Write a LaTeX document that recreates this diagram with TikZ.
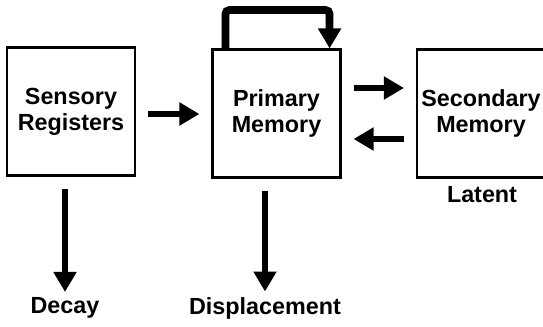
\documentclass[tikz,border=0pt]{standalone}
\usepackage{fontspec}
\setmainfont{Liberation Sans}
\usetikzlibrary{arrows.meta,calc}

\tikzset{
  memblock/.style={draw,line width=1.6pt,minimum width=96pt,minimum height=96pt,inner sep=0pt,align=center,font=\fontsize{17.5}{19.5}\selectfont\bfseries},
  fatarrow/.style={line width=5.2pt,-{Triangle[width=16.5pt,length=15pt]}},
  outlabel/.style={inner sep=0pt,font=\fontsize{17.5}{19.5}\selectfont\bfseries}
}

\begin{document}
\begin{tikzpicture}[x=0.75pt,y=0.75pt,yscale=-1,xscale=1]
\clip (0,0) rectangle (543,326);

% Boxes
\node[memblock] (sens) at (71,111.5) {Sensory\\Registers};
\node[memblock] (prim) at (276.5,113.5) {Primary\\Memory};
\node[memblock] (sec) at (481,113.5) {Secondary\\Memory};

% Text Node
\node[outlabel] (decay) at (65,308) {Decay};
% Text Node
\node[outlabel] (displ) at (265,308) {Displacement};
% Text Node
\node[outlabel] (latent) at (482,195) {Latent};

% rehearsal loop
\coordinate (loopa) at ($(prim.north west)+(14,0)$);
\coordinate (loopb) at ($(prim.north east)+(-12,0)$);
\draw[fatarrow,line width=5.8pt,rounded corners=3pt] (loopa) -- (loopa |- 0,10) -- (loopb |- 0,10) -- (loopb);

% flows between stores
\draw[fatarrow,shorten <=9pt,shorten >=9pt] ($(sens.east)+(0,2.5)$) -- ($(prim.west)+(0,0.5)$);
\draw[fatarrow,shorten <=9pt,shorten >=9pt] ($(prim.east)+(0,-25.5)$) -- ($(sec.west)+(0,-25.5)$);
\draw[fatarrow,shorten <=9pt,shorten >=9pt] ($(sec.west)+(0,25.5)$) -- ($(prim.east)+(0,25.5)$);

% forgetting
\draw[fatarrow,shorten <=9.5pt,shorten >=4pt] (decay.north |- sens.south) -- (decay.north);
\draw[fatarrow,shorten <=9pt,shorten >=4pt] (displ.north |- prim.south) -- (displ.north);

\end{tikzpicture}
\end{document}
